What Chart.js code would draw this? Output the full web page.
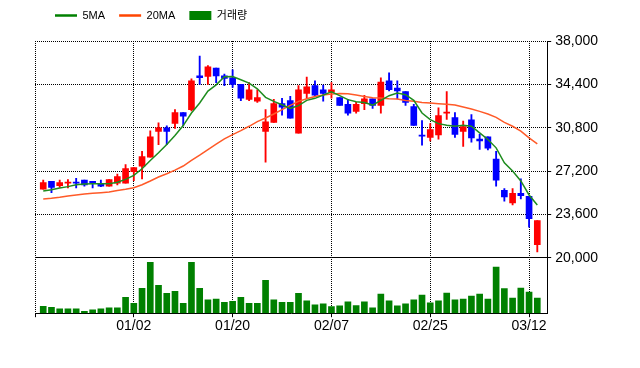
<!DOCTYPE html>
<html>
<head>
<meta charset="utf-8">
<script src="https://cdn.jsdelivr.net/npm/chart.js@4.4.1/dist/chart.umd.min.js"></script>
<style>
    html, body { margin: 0; padding: 0; background: #fff; }
    #wrap { width: 640px; height: 368px; }
</style>
</head>
<body>
<div id="wrap"><canvas id="stockChart" width="640" height="368"></canvas></div>
<script>
// Daily candles, 2019-12-13 .. 2020-03-13
const dates = [
    '12/13', '12/16', '12/17', '12/18', '12/19', '12/20', '12/23', '12/24', '12/26', '12/27', '12/30',
    '01/02', '01/03', '01/06', '01/07', '01/08', '01/09', '01/10', '01/13', '01/14', '01/15',
    '01/16', '01/17', '01/20', '01/21', '01/22', '01/23', '01/28', '01/29', '01/30', '01/31',
    '02/03', '02/04', '02/05', '02/06', '02/07', '02/10', '02/11', '02/12', '02/13', '02/14',
    '02/17', '02/18', '02/19', '02/20', '02/21', '02/24', '02/25', '02/26', '02/27', '02/28',
    '03/02', '03/03', '03/04', '03/05', '03/06', '03/09', '03/10', '03/11', '03/12', '03/13'
];

const opens = [
    25700, 26350, 26000, 26200, 26250, 26450, 26350, 26150, 25950, 26200, 26200,
    27150, 27600, 28350, 30500, 30800, 31150, 32050, 32300, 35100, 35050,
    35750, 35100, 34950, 34400, 33150, 33000, 30500, 31250, 32800, 33050,
    30350, 33650, 34300, 33950, 33750, 33300, 32750, 32150, 32800, 33200,
    32650, 34700, 34100, 33800, 32550, 30150, 30000, 30200, 32000, 31650,
    30500, 31450, 29850, 30050, 28200, 25600, 24550, 25350, 25100, 21100
];
const highs = [
    26450, 26350, 26450, 26500, 26600, 26450, 26350, 26450, 26500, 26950, 27750,
    27500, 28850, 30550, 31200, 30950, 32300, 32050, 34850, 36750, 35950,
    35750, 35250, 35600, 34400, 34550, 33950, 32300, 33150, 33250, 33400,
    34300, 35000, 34700, 34350, 34550, 33300, 33150, 32900, 33500, 33200,
    34950, 35350, 34700, 33800, 32750, 31400, 31150, 32450, 33800, 32050,
    31350, 31900, 30250, 30050, 28850, 25750, 25750, 26550, 25100, 23100
];
const lows = [
    25700, 25400, 25850, 25800, 25800, 25950, 25800, 25900, 25950, 26050, 26200,
    26400, 26550, 28350, 29400, 29400, 30750, 30950, 32200, 34400, 34400,
    34550, 34300, 34150, 33050, 33050, 32900, 27950, 31250, 31850, 31600,
    30350, 33250, 33400, 33000, 33250, 32650, 31850, 32000, 32300, 32400,
    32000, 33850, 33200, 32650, 31000, 29350, 29700, 29850, 31500, 30000,
    29250, 29600, 29000, 28950, 25950, 24700, 24400, 24900, 22550, 20500
];
const closes = [
    26250, 25850, 26250, 26250, 26200, 26050, 26200, 25950, 26500, 26750, 27400,
    27500, 28400, 30050, 30800, 30500, 32050, 31750, 34700, 34950, 35850,
    35100, 34900, 34400, 33250, 33950, 33300, 31300, 32800, 32500, 31600,
    33950, 34200, 33500, 33650, 33950, 32650, 32000, 32750, 33200, 32650,
    34600, 33950, 33850, 32900, 31000, 30100, 30650, 31800, 32100, 30250,
    30900, 29950, 29700, 29100, 26450, 25050, 25350, 25150, 23250, 23100
];
const volumes = [
    140000, 120000, 86000, 86000, 86000, 40000, 66000, 86000, 106000, 106000, 320000,
    200000, 500000, 1020000, 560000, 400000, 440000, 200000, 1020000, 500000, 266000,
    286000, 220000, 240000, 320000, 200000, 200000, 660000, 266000, 220000, 220000,
    400000, 246000, 166000, 186000, 134000, 146000, 226000, 154000, 226000, 106000,
    386000, 246000, 146000, 186000, 266000, 366000, 206000, 246000, 406000, 266000,
    286000, 346000, 386000, 286000, 926000, 494000, 306000, 506000, 426000, 306000
];
const ma5 = [
    25550, 25660, 25800, 25910, 26070, 26130, 26150, 26150, 26150, 26270, 26510,
    26840, 27390, 28080, 28720, 29410, 30150, 30980, 32020, 32850, 33840,
    34360, 35030, 35050, 34780, 34500, 34030, 33320, 32990, 32710, 32410,
    32630, 33070, 33240, 33510, 33790, 33460, 33130, 32960, 32900, 32680,
    33070, 33460, 33680, 33540, 33070, 32020, 31470, 31140, 31000, 30920,
    31000, 30920, 30370, 29820, 29130, 27890, 27200, 26380, 25220, 24390
];
const ma20 = [
    24890, 24940, 25030, 25140, 25220, 25300, 25360, 25410, 25470, 25580, 25690,
    25820, 26070, 26380, 26710, 26980, 27280, 27620, 28080, 28520, 28990,
    29430, 29870, 30230, 30560, 30920, 31310, 31610, 31940, 32300, 32660,
    32990, 33210, 33400, 33510, 33590, 33650, 33620, 33510, 33400, 33290,
    33260, 33210, 33180, 33070, 32990, 32900, 32850, 32790, 32740, 32680,
    32520, 32350, 32160, 31940, 31660, 31250, 30920, 30510, 29960, 29460
];

// axis setup
const labelIdx = [-1, 11, 23, 35, 47, 59];
const priceMin = 20000;
const priceMax = 38000;
const priceStep = 3600;
const volumeMax = 1112000;

const UP = '#FF0000';
const DOWN = '#0000FF';
const VOL = '#008000';

const candleColor = i => closes[i] >= opens[i] ? UP : DOWN;
const xy = arr => arr.map((v, i) => ({ x: i, y: v }));

Chart.defaults.font.family = '"Liberation Sans", Arial, "Noto Sans CJK KR", sans-serif';
Chart.defaults.color = '#000';

// the legend in the reference sits further right and higher than Chart.js puts it
const legendNudge = {
    id: 'legendNudge',
    afterLayout(chart) {
        chart.legend.left += 6;
        chart.legend.top -= 10;
    }
};

const dotted = ctx => (ctx.tick && ctx.tick.value === priceMin) ? [] : [1, 1];

new Chart(document.getElementById('stockChart'), {
    type: 'bar',
    data: {
        datasets: [
            {
                type: 'line',
                label: '5MA',
                data: xy(ma5),
                borderColor: '#1E8C1E',
                borderWidth: 1.5,
                pointRadius: 0,
                pointStyle: 'line',
                yAxisID: 'y',
                order: 0
            },
            {
                type: 'line',
                label: '20MA',
                data: xy(ma20),
                borderColor: '#FF5A28',
                borderWidth: 1.5,
                pointRadius: 0,
                pointStyle: 'line',
                yAxisID: 'y',
                order: 0
            },
            {
                label: '거래량',
                data: xy(volumes),
                backgroundColor: VOL,
                borderWidth: 0,
                barThickness: 6,
                grouped: false,
                pointStyle: 'rect',
                yAxisID: 'yv',
                order: 3
            },
            {
                label: 'wick',
                data: lows.map((l, i) => ({ x: i, y: [l, highs[i]] })),
                backgroundColor: ctx => candleColor(ctx.dataIndex),
                borderWidth: 0,
                barThickness: 1.2,
                grouped: false,
                yAxisID: 'y',
                order: 2
            },
            {
                label: 'body',
                data: opens.map((o, i) => ({ x: i, y: [o, closes[i]] })),
                backgroundColor: ctx => candleColor(ctx.dataIndex),
                borderWidth: 0,
                barThickness: 6,
                minBarLength: 1,
                grouped: false,
                yAxisID: 'y',
                order: 1
            }
        ]
    },
    options: {
        responsive: false,
        animation: false,
        layout: {
            padding: { left: 35, right: 38, top: 6, bottom: 32 }
        },
        plugins: {
            tooltip: { enabled: false },
            legend: {
                display: true,
                position: 'top',
                align: 'start',
                labels: {
                    usePointStyle: true,
                    pointStyleWidth: 22,
                    boxHeight: 9,
                    padding: 14,
                    color: '#000',
                    font: { size: 11 },
                    filter: item => ['5MA', '20MA', '거래량'].includes(item.text),
                    generateLabels: function (chart) {
                        const items = Chart.defaults.plugins.legend.labels.generateLabels(chart);
                        items.forEach(item => {
                            if (item.pointStyle === 'line') {
                                item.lineWidth = 2.5;
                                item.strokeStyle = item.text === '5MA' ? '#008000' : '#FF4500';
                            } else {
                                item.lineWidth = 0;
                            }
                        });
                        return items;
                    }
                }
            }
        },
        scales: {
            x: {
                type: 'linear',
                min: -1,
                max: 61.2,
                offset: false,
                afterBuildTicks: scale => {
                    scale.ticks = labelIdx.map(v => ({ value: v }));
                },
                ticks: {
                    autoSkip: false,
                    maxRotation: 0,
                    padding: 1,
                    font: { size: 14 },
                    callback: value => dates[value] || ''
                },
                grid: { color: '#000', tickLength: 4, offset: false },
                border: { display: true, color: '#000', dash: [1, 1] }
            },
            y: {
                type: 'linear',
                position: 'right',
                stack: 'panes',
                stackWeight: 217.7,
                min: priceMin,
                max: priceMax,
                ticks: {
                    stepSize: priceStep,
                    padding: 4,
                    font: { size: 14 },
                    callback: value => value.toLocaleString('en-US')
                },
                grid: { color: '#000', tickLength: 4 },
                border: { display: true, color: '#000', dash: dotted }
            },
            yv: {
                type: 'linear',
                position: 'right',
                stack: 'panes',
                stackWeight: 55.6,
                min: 0,
                max: volumeMax,
                ticks: { display: false },
                grid: { display: false },
                border: { display: true, color: '#000' }
            }
        }
    },
    plugins: [legendNudge]
});
</script>
</body>
</html>
